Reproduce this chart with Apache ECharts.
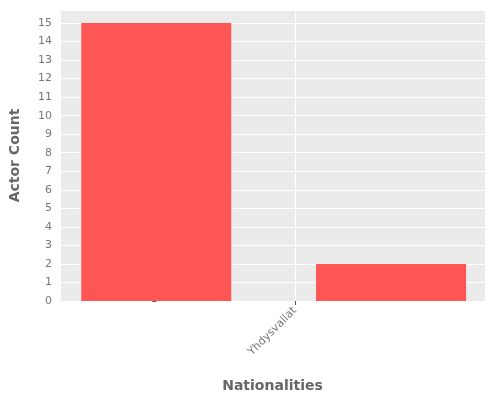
<!DOCTYPE html>
<html><head><meta charset="utf-8">
<script src="https://cdn.jsdelivr.net/npm/echarts@6/dist/echarts.min.js"></script>
<style>html,body{margin:0;padding:0;background:#fff}#c{width:500px;height:400px}</style>
</head><body><div id="c"></div>
<script>
const categories = ["Kanada", "Yhdysvallat"];
const counts = [15, 2];
const yTicks = [0,1,2,3,4,5,6,7,8,9,10,11,12,13,14,15];
const chart = echarts.init(document.getElementById('c'));
chart.setOption({
  animation: false,
  grid: {left: 58, right: 15, top: 10, bottom: 99, show: true, backgroundColor: '#EBEBEB', borderWidth: 0},
  xAxis: {
    type: 'value', min: -0.41, max: 1.40, interval: 1,
    name: 'Nationalities', nameLocation: 'middle', nameGap: 78,
    nameTextStyle: {color: '#666', fontSize: 14, fontWeight: 'bold', fontFamily: 'DejaVu Sans'},
    axisLine: {show: false}, axisTick: {show: true, length: 4, lineStyle: {color: '#555'}},
    splitLine: {show: true, lineStyle: {color: '#fff'}},
    axisLabel: {rotate: 45, color: '#777', fontSize: 11, fontFamily: 'DejaVu Sans', showMinLabel: false, showMaxLabel: false,
      formatter: v => categories[Math.round(v)] ?? ''}
  },
  yAxis: {
    type: 'value', min: 0, max: 15.7, interval: 1,
    name: 'Actor Count', nameLocation: 'middle', nameGap: 38,
    nameTextStyle: {color: '#666', fontSize: 14, fontWeight: 'bold', fontFamily: 'DejaVu Sans'},
    axisLine: {show: false}, axisTick: {show: true, length: 4, lineStyle: {color: '#555'}},
    splitLine: {show: true, lineStyle: {color: '#fff'}},
    axisLabel: {color: '#777', fontSize: 11, fontFamily: 'DejaVu Sans', showMaxLabel: false,
      formatter: v => yTicks.includes(v) ? String(v) : ''}
  },
  series: [{
    type: 'bar', barWidth: 150,
    itemStyle: {color: '#FF5555'},
    data: counts.map((c, i) => [i, c])
  }]
});
</script></body></html>
